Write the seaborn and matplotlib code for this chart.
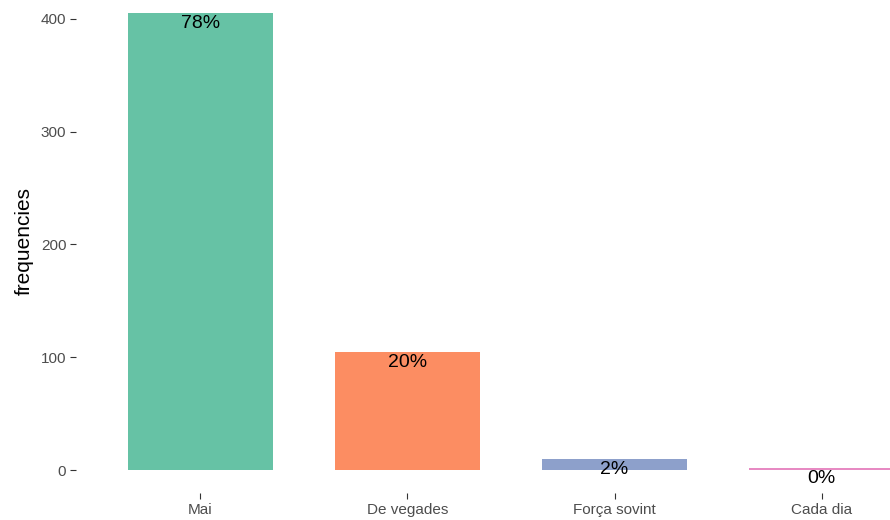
import matplotlib
matplotlib.use("Agg")
import matplotlib.pyplot as plt
import seaborn as sns
import pandas as pd

# Dades llegides del gràfic
categories = ["Mai", "De vegades", "Força sovint", "Cada dia"]
frequencies = [405, 105, 10, 2]
percentatges = ["78%", "20%", "2%", "0%"]
colors = ["#66C2A5", "#FC8D62", "#8DA0CB", "#E78AC3"]

df = pd.DataFrame({"categoria": categories, "freq": frequencies})

sns.set_style("white")
plt.rcParams["font.family"] = ["Liberation Sans", "DejaVu Sans"]

fig = plt.figure(figsize=(8.9, 5.2), dpi=100)
ax = fig.add_axes([76 / 890, 27 / 520, 1 - 76 / 890, 493 / 520])

sns.barplot(data=df, x="categoria", y="freq", hue="categoria",
            palette=colors, width=0.7, legend=False, ax=ax,
            saturation=1, linewidth=0)

# Etiquetes de percentatge a dalt de cada barra
for i, (v, p) in enumerate(zip(frequencies, percentatges)):
    ax.annotate(p, (i, v), xytext=(0, -1.5), textcoords="offset points",
                ha="center", va="top", fontsize=14, color="black")

ax.set_xlim(-0.6, 3.33)
ax.set_ylim(-20.25, 416.7)
ax.set_yticks([0, 100, 200, 300, 400])
ax.set_xlabel("")
ax.set_ylabel("frequencies", fontsize=15, color="black")
ax.yaxis.set_label_coords(-0.052, 0.512)
for s in ax.spines.values():
    s.set_visible(False)
ax.tick_params(axis="both", length=4, width=0.8, color="#333333",
               labelcolor="#4D4D4D", labelsize=11, pad=3,
               left=True, bottom=True)

fig.savefig("out.png", dpi=100)
